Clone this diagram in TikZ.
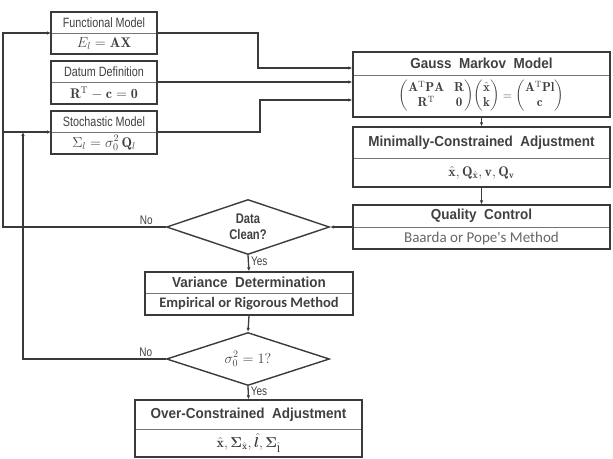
\documentclass[tikz,border=0pt]{standalone}
\usepackage{amsmath,amssymb,bm}
\usepackage{fontspec}
\usepackage{xcolor}
\usepackage{tikz}
\usetikzlibrary{arrows.meta,positioning,shapes.geometric,fit}

\newfontfamily\narrowfont[FakeStretch=0.8]{Liberation Sans}
\newfontfamily\condfont[FakeStretch=0.93]{Liberation Sans}
\newfontfamily\calfont{Carlito}
\definecolor{linec}{HTML}{3A3A3A}
\definecolor{textc}{HTML}{404040}

\begin{document}
\begin{tikzpicture}[x=1pt, y=-1pt,
  headbox/.style={draw=linec!70, line width=0.7pt, outer sep=0pt, inner sep=1pt,
                  text=textc},
  bodybox/.style={draw=linec!70, line width=0.7pt, outer sep=0pt, inner sep=1pt,
                  text=textc, font=\fontsize{14}{16}\selectfont},
  framebox/.style={draw=linec, line width=1.4pt, inner sep=0pt},
  small/.style={font=\fontsize{13.5}{15}\narrowfont, minimum width=106pt},
  large/.style={font=\fontsize{14.5}{17}\condfont\bfseries},
  decision/.style={diamond, draw=linec, line width=1.4pt, aspect=3, inner sep=0pt,
                   minimum width=163pt, text=textc, align=center},
  lbl/.style={font=\fontsize{12.5}{14}\narrowfont, text=textc, inner sep=2pt},
  arr/.style={-{Latex[length=4pt,width=3.5pt]}, draw=linec, line width=1.3pt}
]
  \useasboundingbox (0,0) rectangle (613,458);

  % Input models
  \node[headbox, small, minimum height=21pt] (fun) at (104,22.5) {Functional Model};
  \node[bodybox, minimum width=106pt, minimum height=21pt, below=0pt of fun] (funx)
    {$E_l = \mathbf{AX}$};
  \node[framebox, fit=(fun)(funx)] (funbox) {};

  \node[headbox, small, minimum height=21pt] (datum) at (104,71.5) {Datum Definition};
  \node[bodybox, minimum width=106pt, minimum height=22pt, below=0pt of datum] (datumx)
    {$\mathbf{R}^{\mathrm{T}} - \mathbf{c} = \mathbf{0}$};
  \node[framebox, fit=(datum)(datumx)] (datumbox) {};

  \node[headbox, small, minimum height=21pt] (stoch) at (104,121.5) {Stochastic Model};
  \node[bodybox, minimum width=106pt, minimum height=22pt, below=0pt of stoch] (stochx)
    {$\Sigma_l = \sigma_0^2\,\mathbf{Q}_l$};
  \node[framebox, fit=(stoch)(stochx)] (stochbox) {};

  % Adjustment chain
  \node[headbox, large, minimum width=257pt, minimum height=23pt] (gm) at (481.5,63.5)
    {Gauss\ \ Markov\ \ Model};
  \node[bodybox, minimum width=257pt, minimum height=42pt, below=0pt of gm,
        font=\fontsize{13}{15}\selectfont] (gmx)
    {$\begin{pmatrix}\mathbf{A}^{\mathrm{T}}\mathbf{PA} & \mathbf{R}\\ \mathbf{R}^{\mathrm{T}} & \mathbf{0}\end{pmatrix}
      \!\begin{pmatrix}\hat{\mathbf{x}}\\ \mathbf{k}\end{pmatrix}
      = \begin{pmatrix}\mathbf{A}^{\mathrm{T}}\mathbf{Pl}\\ \mathbf{c}\end{pmatrix}$};
  \node[framebox, fit=(gm)(gmx)] (gmbox) {};

  \node[headbox, large, minimum width=257pt, minimum height=31pt] (mca) at (481.5,142.5)
    {Minimally-Constrained\ \ Adjustment};
  \node[bodybox, minimum width=257pt, minimum height=29pt, below=0pt of mca] (mcax)
    {$\hat{\mathbf{x}}, \mathbf{Q}_{\hat{\mathbf{x}}}, \mathbf{v}, \mathbf{Q}_{\mathbf{v}}$};
  \node[framebox, fit=(mca)(mcax)] (mcabox) {};

  \node[headbox, large, minimum width=257pt, minimum height=22pt] (qc) at (481.5,216)
    {Quality\ \ Control};
  \node[bodybox, minimum width=257pt, minimum height=22pt, below=0pt of qc,
        font=\fontsize{15}{16}\calfont, text=textc!80] (qcx) {Baarda or Pope's Method};
  \node[framebox, fit=(qc)(qcx)] (qcbox) {};

  % Decisions and variance
  \node[decision, minimum height=55pt, font=\fontsize{14}{16}\narrowfont\bfseries] (clean)
    at (248,227) {Data\\Clean?};

  \node[headbox, large, minimum width=208pt, minimum height=21pt] (var) at (249,282.5)
    {Variance\ \ Determination};
  \node[bodybox, minimum width=208pt, minimum height=22pt, below=0pt of var,
        font=\fontsize{14.5}{16}\calfont\bfseries] (varx) {Empirical or Rigorous Method};
  \node[framebox, fit=(var)(varx)] (varbox) {};

  \node[decision, minimum height=53pt, font=\fontsize{14}{16}\selectfont] (sig)
    at (248,359) {$\sigma_0^2 = 1?$};

  \node[headbox, large, minimum width=227pt, minimum height=29pt] (oca) at (248.5,414.5)
    {Over-Constrained\ \ Adjustment};
  \node[bodybox, minimum width=227pt, minimum height=28pt, below=0pt of oca] (ocax)
    {$\hat{\mathbf{x}}, \boldsymbol{\Sigma}_{\hat{\mathbf{x}}}, \hat{\boldsymbol{l}},
      \boldsymbol{\Sigma}_{\hat{\mathbf{l}}}$};
  \node[framebox, fit=(oca)(ocax)] (ocabox) {};

  % Inputs into the Gauss Markov model
  \coordinate (g1) at (gmbox.west |- 0,68);
  \coordinate (g3) at (gmbox.west |- 0,100);
  \draw[arr] (fun.south east) -- (fun.south east -| 258,0) |- (g1);
  \draw[arr] (datum.south east) -- (datum.south east -| gmbox.west);
  \draw[arr] (stoch.south east) -- (stoch.south east -| 260,0) |- (g3);

  % Main flow
  \draw[arr] (gmbox.south) -- (mcabox.north);
  \draw[arr] (mcabox.south) -- (qcbox.north);
  \draw[arr] (qcbox.west) -- (clean.east);
  \draw[arr] (clean.south) -- node[lbl, right, pos=0.35] {Yes} (varbox.north);
  \draw[arr] (varbox.south) -- (sig.north);
  \draw[arr] (sig.south) -- node[lbl, right, pos=0.35] {Yes} (ocabox.north);

  % Feedback loops
  \draw[arr] (clean.west) -| ([xshift=-48pt]fun.south west)
    node[lbl, above, pos=0.06] {No} -- (fun.south west);
  \draw[arr] ([xshift=-48pt]stoch.south west) -- (stoch.south west);
  \draw[arr] (sig.west) -| ([xshift=-28pt]stoch.south west)
    node[lbl, above, pos=0.07] {No};
\end{tikzpicture}
\end{document}
